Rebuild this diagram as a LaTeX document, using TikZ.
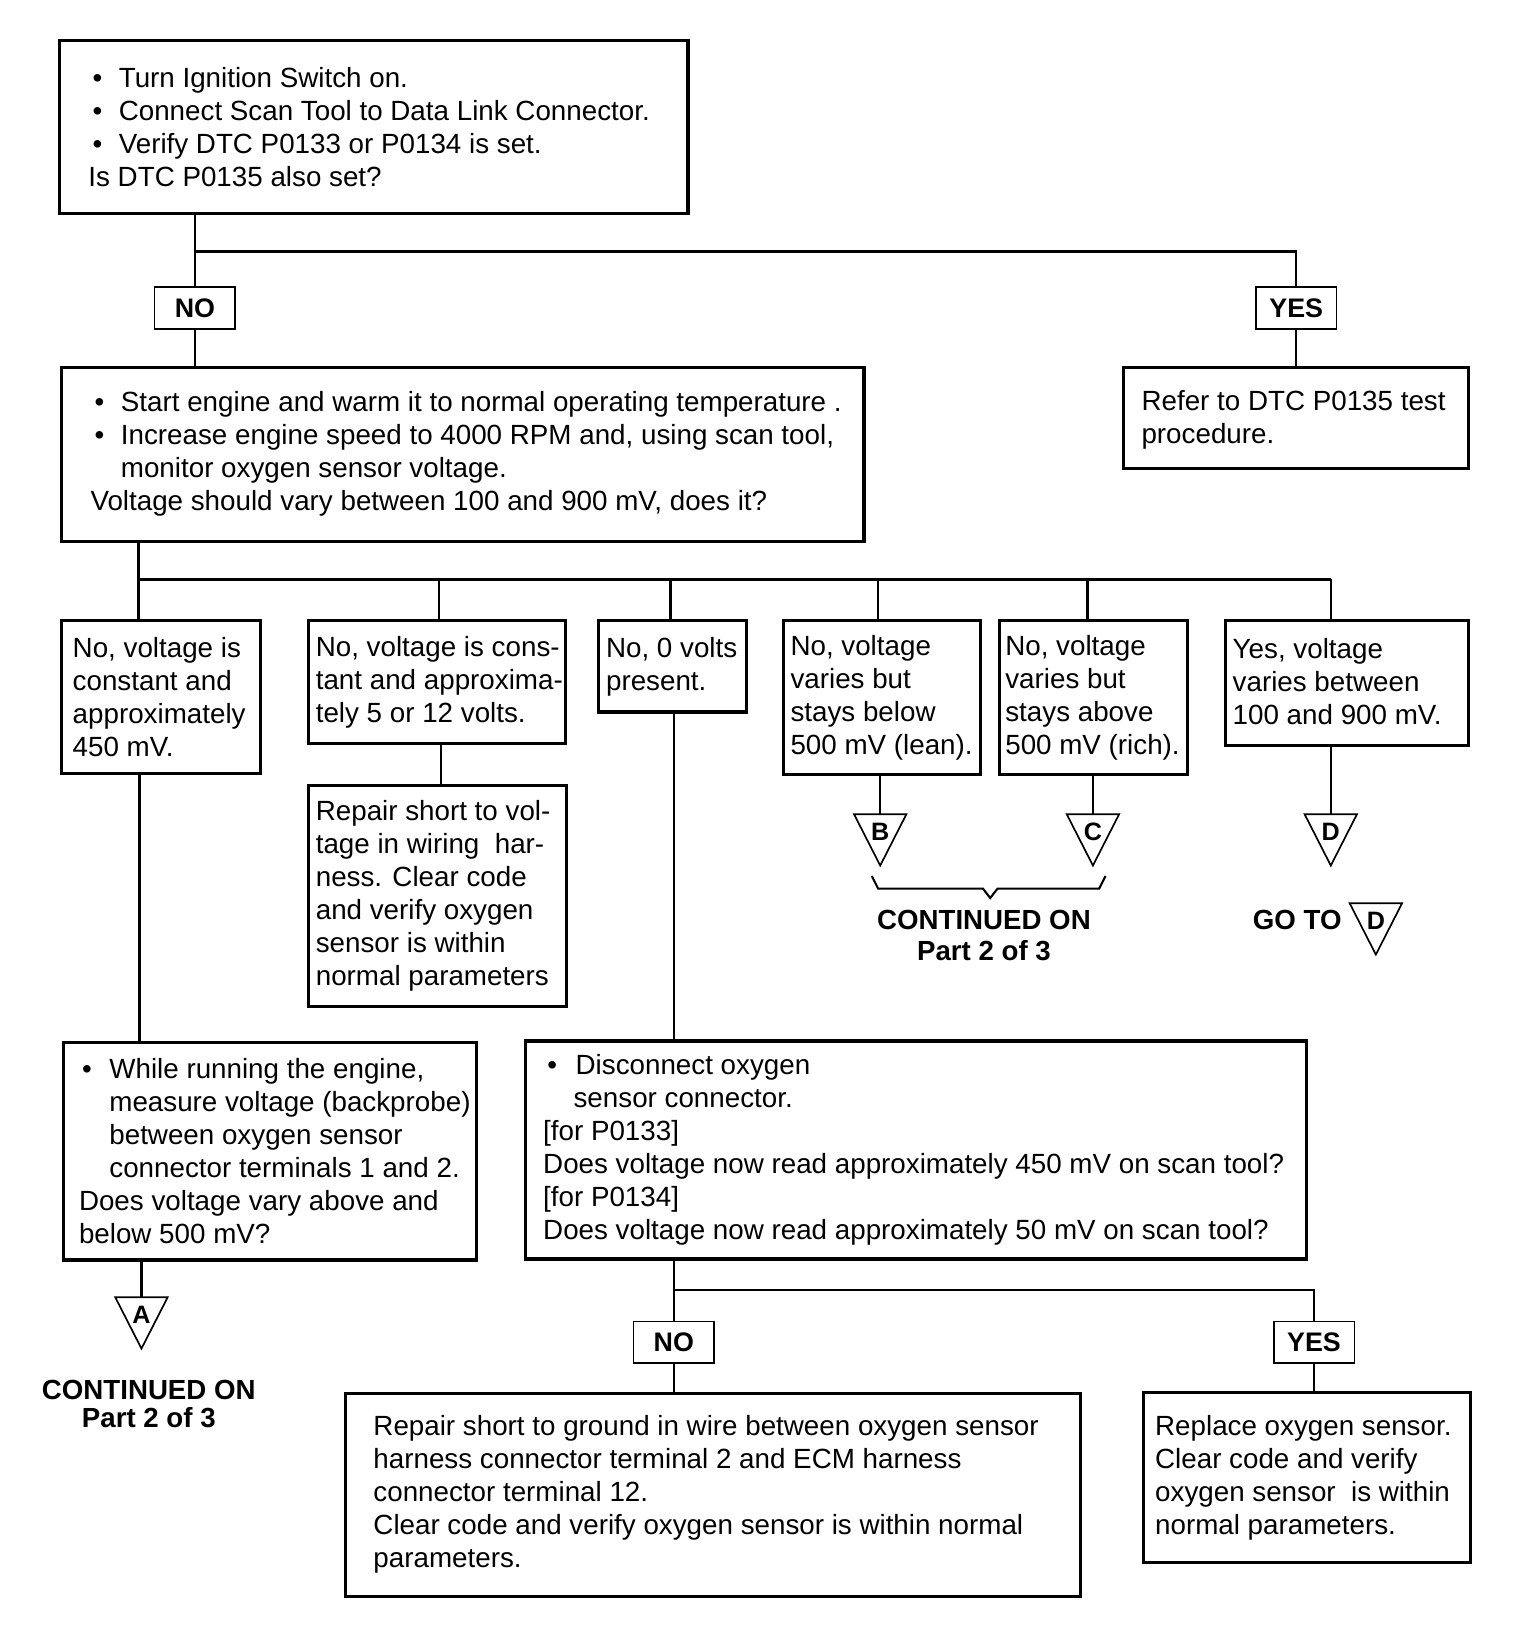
\documentclass[tikz,border=0pt]{standalone}
\usepackage{fontspec}
\setmainfont{Liberation Sans}
\newcommand\bul{\hspace*{2pt}\makebox[12.5pt][l]{\textbullet}}
\newcommand\ind{\hspace*{14.5pt}}
\newcommand\mybox[5]{\node[box, minimum width={(#4-#2)*0.5pt}, minimum height={(#5-#3)*0.5pt}] (#1) at (#2,#3) {};}
\newcommand\offpage[4]{%
  \coordinate (#1) at (#2,#3);
  \draw[tri] (#1) ++(-25,0) -- ++(50,0) -- ++(-25,49) -- cycle;
  \node[trilbl] (#1l) at (#2,{#3+17}) {#4};}
\tikzset{
  box/.style={draw, line width=1.5pt, anchor=north west, inner sep=0pt},
  lbl/.style={draw, line width=0.8pt, minimum width=38.5pt, minimum height=20pt, inner sep=0pt,
              font=\fontsize{12.8pt}{15pt}\selectfont\bfseries},
  txt/.style={anchor=west, inner sep=0pt, align=left, font=\fontsize{13.25pt}{15.75pt}\selectfont},
  conn/.style={line width=1.2pt},
  tri/.style={line width=0.8pt, line join=miter},
  trilbl/.style={inner sep=0pt, font=\fontsize{12pt}{14pt}\selectfont\bfseries},
  cont/.style={inner sep=0pt, align=center, font=\fontsize{13.2pt}{15pt}\selectfont\bfseries},
}
\begin{document}
\begin{tikzpicture}[x=0.5pt,y=-0.5pt]
\useasboundingbox (0,0) rectangle (1466,1567);

% boxes
\mybox{b1}{55}{37}{655}{202}
\mybox{b2}{57}{349}{823}{515}
\mybox{refer}{1071}{349}{1400}{446}
\mybox{c1}{57}{591}{247}{737}
\mybox{c2}{293}{591}{538}{708}
\mybox{c3}{570}{591}{711}{678}
\mybox{c4}{746}{591}{934}{738}
\mybox{c5}{952}{591}{1132}{738}
\mybox{c6}{1168}{591}{1400}{710}
\mybox{rep1}{293}{748}{539}{959}
\mybox{wh}{59}{993}{453}{1201}
\mybox{dis}{500}{992}{1245}{1200}
\mybox{rep2}{328}{1328}{1030}{1522}
\mybox{repl}{1090}{1327}{1402}{1490}

% texts
\node[txt] (b1t) at ([xshift=14.5pt]b1.west) {\bul Turn Ignition Switch on.\\ \bul Connect Scan Tool to Data Link Connector.\\ \bul Verify DTC P0133 or P0134 is set.\\ Is DTC P0135 also set?};
\node[txt] (b2t) at ([xshift=14.5pt]b2.west) {\bul Start engine and warm it to normal operating temperature .\\ \bul Increase engine speed to 4000 RPM and, using scan tool,\\ \ind monitor oxygen sensor voltage.\\ Voltage should vary between 100 and 900 mV, does it?};
\node[txt] (refert) at ([xshift=9pt,yshift=-1pt]refer.west) {Refer to DTC P0135 test\\ procedure.};
\node[txt] (c1t) at ([xshift=6pt]c1.west) {No, voltage is\\ constant and\\ approximately\\ 450 mV.};
\node[txt] (c2t) at ([xshift=4pt]c2.west) {No, voltage is cons-\\ tant and approxima-\\ tely 5 or 12 volts.};
\node[txt] (c3t) at ([xshift=4pt]c3.west) {No, 0 volts\\ present.};
\node[txt] (c4t) at ([xshift=4pt]c4.west) {No, voltage\\ varies but\\ stays below\\ 500 mV (lean).};
\node[txt] (c5t) at ([xshift=3.5pt]c5.west) {No, voltage\\ varies but\\ stays above\\ 500 mV (rich).};
\node[txt] (c6t) at ([xshift=4pt,yshift=1pt]c6.west) {Yes, voltage\\ varies between\\ 100 and 900 mV.};
\node[txt] (rep1t) at ([xshift=4pt]rep1.west) {Repair short to vol-\\ tage in wiring\ \ har-\\ ness. Clear code\\ and verify oxygen\\ sensor is within\\ normal parameters};
\node[txt] (wht) at ([xshift=8pt]wh.west) {\hspace*{1.5pt}\makebox[13pt][l]{\textbullet}While running the engine,\\ \ind measure voltage (backprobe)\\ \ind between oxygen sensor\\ \ind connector terminals 1 and 2.\\ Does voltage vary above and\\ below 500 mV?};
\node[txt] (dist) at ([xshift=9pt]dis.west) {\bul\hspace*{1pt}Disconnect oxygen\\ \ind sensor connector.\\ {[for P0133]}\\ Does voltage now read approximately 450 mV on scan tool?\\ {[for P0134]}\\ Does voltage now read approximately 50 mV on scan tool?};
\node[txt] (rep2t) at ([xshift=14pt]rep2.west) {Repair short to ground in wire between oxygen sensor\\ harness connector terminal 2 and ECM harness\\ connector terminal 12.\\ Clear code and verify oxygen sensor is within normal\\ parameters.};
\node[txt] (replt) at ([xshift=6pt]repl.west) {Replace oxygen sensor.\\ Clear code and verify\\ oxygen sensor\ \ is within\\ normal parameters.};

% yes/no labels
\node[lbl] (no1) at (186,294) {NO};
\node[lbl] (yes1) at (1237,294) {YES};
\node[lbl] (no2) at (643,1281) {NO};
\node[lbl] (yes2) at (1254,1281) {YES};

% first decision
\coordinate (j1) at (186,240);
\draw[conn] (b1.south -| j1) -- (no1.north);
\draw[conn] (j1) -| (yes1.north);
\draw[conn] (no1.south) -- (b2.north -| no1);
\draw[conn] (yes1.south) -- (refer.north -| yes1);

% second decision bus
\coordinate (d1) at (132,553);
\coordinate (d2) at (419,553);
\coordinate (d3) at (640,553);
\coordinate (d4) at (838,553);
\coordinate (d5) at (1038,553);
\coordinate (d6) at (1270,553);
\draw[conn] (b2.south -| d1) -- (c1.north -| d1);
\draw[conn] (d1) -- (d6);
\foreach \i in {2,...,6} {\draw[conn] (d\i) -- (c\i.north -| d\i);}

% vertical columns
\coordinate (x1) at (133,0);
\coordinate (x2) at (421,0);
\coordinate (x3) at (643,0);
\draw[conn] (c1.south -| x1) -- (wh.north -| x1);
\draw[conn] (c2.south -| x2) -- (rep1.north -| x2);
\draw[conn] (c3.south -| x3) -- (dis.north -| x3);

% off-page connectors
\offpage{B}{840}{777}{B}
\offpage{C}{1043}{777}{C}
\offpage{D}{1270}{777}{D}
\offpage{A}{135}{1238}{A}
\offpage{D2}{1313}{862}{D}
\draw[conn] (c4.south -| B) -- (B);
\draw[conn] (c5.south -| C) -- (C);
\draw[conn] (c6.south -| D) -- (D);
\draw[conn] (wh.south -| A) -- (A);

% brace
\draw[line width=1pt] (832,836) -- (838,848) -- (938,848) -- (945,857) -- (952,848) -- (1049,848) -- (1055,836);
\node[cont] (cont1) at (939,893) {CONTINUED ON\\ Part 2 of 3};
\node[cont] (goto) at (1238,878) {GO TO};
\node[cont, font=\fontsize{13.2pt}{13.5pt}\selectfont\bfseries] (cont2) at (142,1340) {CONTINUED ON\\ Part 2 of 3};

% last decision
\coordinate (j3) at (643,1231);
\draw[conn] (dis.south -| no2) -- (no2.north);
\draw[conn] (j3) -| (yes2.north);
\draw[conn] (no2.south) -- (rep2.north -| no2);
\draw[conn] (yes2.south) -- (repl.north -| yes2);
\end{tikzpicture}
\end{document}
